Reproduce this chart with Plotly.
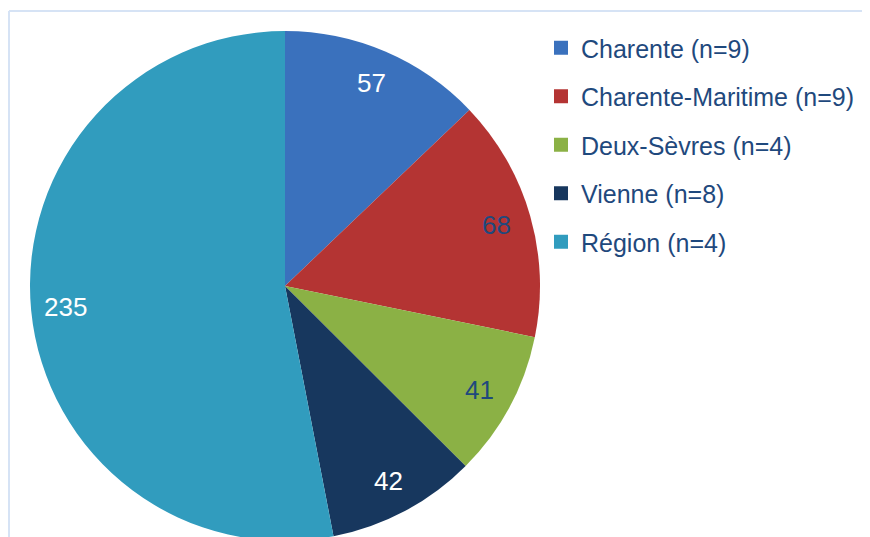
import math
import plotly.graph_objects as go

categories = ["Charente (n=9)", "Charente-Maritime (n=9)", "Deux-Sèvres (n=4)", "Vienne (n=8)", "Région (n=4)"]
values = [57, 68, 41, 42, 235]
colors = ["#3A71BD", "#B43433", "#8BB145", "#17375E", "#319CBE"]
label_colors = ["white", "#1F497D", "#1F497D", "white", "white"]

W, H = 870, 537
FONT = "Liberation Sans, Arial, sans-serif"

# page body adds an 8px offset; layout positions below are in figure pixels
dom_x = [22 / W, 532 / W]
dom_y = [4 / H, 1 - 23 / H]

fig = go.Figure()
fig.add_trace(go.Pie(
    labels=categories, values=values, sort=False, direction="clockwise", rotation=0,
    marker=dict(colors=colors, line=dict(width=0)),
    textinfo="none", hoverinfo="label+value", showlegend=False,
    domain=dict(x=dom_x, y=dom_y),
))

# legend entries as dummy traces (one group each for spacing)
for cat, col in zip(categories, colors):
    fig.add_trace(go.Scatter(
        x=[None], y=[None], mode="markers", name=cat, legendgroup=cat,
        marker=dict(symbol="square", size=14, color=col),
    ))

# value labels placed along slice bisectors
cx = (dom_x[0] + dom_x[1]) / 2 * W
plot_h = (dom_y[1] - dom_y[0]) * H
cy = H - (dom_y[0] + dom_y[1]) / 2 * H
R = min((dom_x[1] - dom_x[0]) * W, plot_h) / 2
total = sum(values)
cum = 0
annotations = []
for v, tc in zip(values, label_colors):
    mid = (cum + v / 2) / total * 2 * math.pi
    cum += v
    px = cx + 0.865 * R * math.sin(mid)
    py = cy - 0.865 * R * math.cos(mid)
    annotations.append(dict(
        x=px / W, y=1 - py / H, xref="paper", yref="paper", text=str(v), showarrow=False,
        font=dict(family=FONT, size=26, color=tc), xanchor="center", yanchor="middle",
    ))

fig.update_layout(
    width=W, height=H,
    margin=dict(l=0, r=0, t=0, b=0),
    paper_bgcolor="white", plot_bgcolor="white",
    xaxis=dict(visible=False), yaxis=dict(visible=False),
    annotations=annotations,
    legend=dict(
        x=533 / W, y=1 - 17 / H, xanchor="left", yanchor="top",
        font=dict(family=FONT, size=25, color="#1F497D"),
        tracegroupgap=13, itemwidth=30, bgcolor="rgba(0,0,0,0)",
    ),
    shapes=[
        dict(type="line", xref="paper", yref="paper", x0=1 / W, x1=1, y0=1 - 3 / H, y1=1 - 3 / H,
             line=dict(color="#D6E3F5", width=2)),
        dict(type="line", xref="paper", yref="paper", x0=1 / W, x1=1 / W, y0=0, y1=1 - 3 / H,
             line=dict(color="#D6E3F5", width=2)),
    ],
)

fig.write_html("out.html")
